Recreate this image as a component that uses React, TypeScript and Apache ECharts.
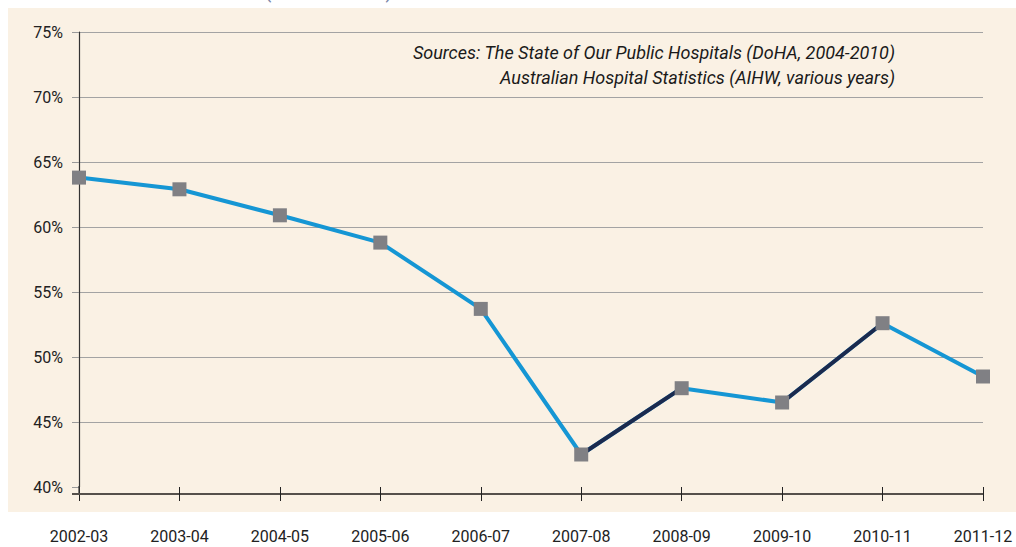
import React, { useEffect, useRef } from "react";
import * as echarts from "echarts";

const categories = ["2002-03", "2003-04", "2004-05", "2005-06", "2006-07", "2007-08", "2008-09", "2009-10", "2010-11", "2011-12"];
const values = [63.8, 62.9, 60.9, 58.8, 53.7, 42.5, 47.6, 46.5, 52.6, 48.5];
const yMin = 40;
const yMax = 75;
const yStep = 5;
const sourceLines = [
  "Sources: The State of Our Public Hospitals (DoHA, 2004-2010)",
  "Australian Hospital Statistics (AIHW, various years)",
];

const FONT = "Roboto, 'DejaVu Sans Condensed', sans-serif";
const BLUE = "#1596d4";
const NAVY = "#1b2a4e";
const MARKER = "#808084";

export default function App() {
  const ref = useRef<HTMLDivElement>(null);
  useEffect(() => {
    if (!ref.current) return;
    const chart = echarts.init(ref.current, undefined, { renderer: "svg" });

    const risingSeries: any[] = [];
    for (let i = 0; i < values.length - 1; i++) {
      if (values[i + 1] > values[i]) {
        const d = values.map((v, j) => (j === i || j === i + 1 ? v : null));
        risingSeries.push({
          type: "line",
          data: d,
          symbol: "none",
          connectNulls: false,
          lineStyle: { color: NAVY, width: 4 },
          itemStyle: { color: NAVY },
          z: 3,
        });
      }
    }

    chart.setOption({
      animation: false,
      backgroundColor: "transparent",
      grid: { left: 79, right: 33, top: 32, bottom: 60, containLabel: false },
      xAxis: [
        {
          type: "category",
          data: categories,
          boundaryGap: false,
          position: "bottom",
          offset: 7,
          axisLine: { show: true, lineStyle: { color: "#55504b", width: 2 } },
          axisTick: { show: true, length: 7, interval: 0, lineStyle: { color: "#222", width: 1 } },
          axisLabel: { margin: 34, interval: 0, fontSize: 16, color: "#222", fontFamily: FONT },
          splitLine: { show: false },
        },
        {
          type: "category",
          data: categories,
          boundaryGap: false,
          position: "bottom",
          offset: 7,
          axisLine: { show: false },
          axisTick: { show: true, inside: true, length: 7, interval: 0, lineStyle: { color: "#222", width: 1 } },
          axisLabel: { show: false },
          splitLine: { show: false },
        },
      ],
      yAxis: {
        type: "value",
        min: yMin,
        max: yMax,
        interval: yStep,
        axisLine: { show: true, lineStyle: { color: "#333", width: 1.2 } },
        axisTick: { show: true, length: 7, lineStyle: { color: "#9a9a9a", width: 1 } },
        axisLabel: { margin: 16, fontSize: 16, color: "#222", fontFamily: FONT, formatter: "{value}%" },
        splitLine: { show: true, showMinLine: false, lineStyle: { color: "#a3a3a3", width: 1.2 } },
      },
      graphic: [
        {
          type: "rect",
          z: -100,
          silent: true,
          shape: { x: 8, y: 8, width: 1008, height: 504 },
          style: { fill: "#FAF1E4" },
        },
        {
          type: "line",
          z: 10,
          silent: true,
          shape: { x1: 79, y1: 486, x2: 79, y2: 495 },
          style: { stroke: "#333", lineWidth: 1.2 },
        },
        {
          type: "line",
          z: 10,
          silent: true,
          shape: { x1: 72, y1: 494, x2: 80, y2: 494 },
          style: { stroke: "#55504b", lineWidth: 2 },
        },
        {
          type: "text",
          z: 10,
          silent: true,
          x: 895,
          y: 52,
          style: {
            text: sourceLines[0],
            align: "right",
            verticalAlign: "middle",
            fontSize: 18,
            fontStyle: "italic",
            fontFamily: FONT,
            fill: "#1a1a1a",
          },
        },
        {
          type: "text",
          z: 10,
          silent: true,
          x: 895,
          y: 77,
          style: {
            text: sourceLines[1],
            align: "right",
            verticalAlign: "middle",
            fontSize: 18,
            fontStyle: "italic",
            fontFamily: FONT,
            fill: "#1a1a1a",
          },
        },
        {
          type: "text",
          silent: true,
          x: 268,
          y: 1,
          style: { text: "(", align: "center", verticalAlign: "bottom", fontSize: 20, fontFamily: FONT, fill: "#7b86a8" },
        },
        {
          type: "text",
          silent: true,
          x: 389,
          y: 1,
          style: { text: ")", align: "center", verticalAlign: "bottom", fontSize: 20, fontFamily: FONT, fill: "#7b86a8" },
        },
      ],
      series: [
        {
          type: "line",
          data: values,
          symbol: "none",
          lineStyle: { color: BLUE, width: 4 },
          itemStyle: { color: BLUE },
          z: 2,
        },
        ...risingSeries,
        {
          type: "scatter",
          data: values,
          symbol: "rect",
          symbolSize: 14,
          itemStyle: { color: MARKER, opacity: 1 },
          z: 5,
        },
      ],
    });
    return () => chart.dispose();
  }, []);

  return (
    <div
      ref={ref}
      style={{ position: "absolute", left: 0, top: 0, width: 1016, height: 547 }}
    />
  );
}
